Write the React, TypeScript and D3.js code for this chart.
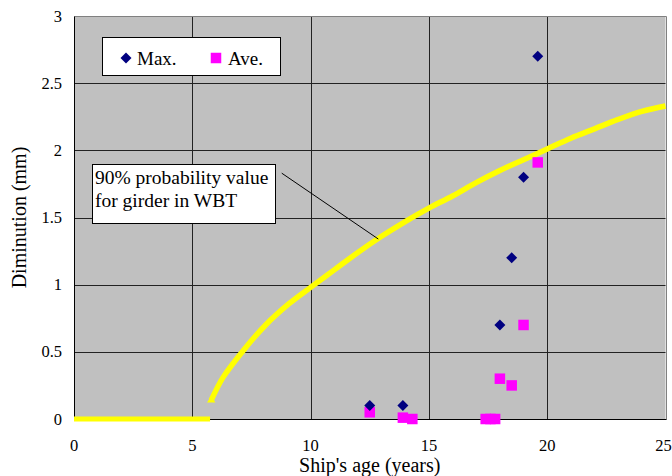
import * as d3 from 'd3';
import React from 'react';

// scatter data
const maxAges = [12.5, 13.9, 18.0, 18.5, 19.0, 19.6];
const maxValues = [0.1, 0.1, 0.7, 1.2, 1.8, 2.7];
const aveAges = [12.5, 13.9, 14.3, 17.4, 17.6, 17.8, 18.0, 18.5, 19.0, 19.6];
const aveValues = [0.05, 0.01, 0, 0, 0, 0, 0.3, 0.25, 0.7, 1.91];

// 90% probability curve
const flatAges = [0, 5.75];
const flatValues = [0, 0];
const curveAges = [5.8, 6.3, 7.2, 8.1, 9.1, 10, 11, 12, 13, 14, 15, 16, 17, 18, 19, 20, 21, 22, 23, 24, 25];
const curveValues = [0.14, 0.31, 0.52, 0.7, 0.86, 0.98, 1.11, 1.24, 1.36, 1.47, 1.57, 1.66, 1.76, 1.85, 1.93, 2.01, 2.09, 2.16, 2.23, 2.29, 2.33];

const xTicks = [0, 5, 10, 15, 20, 25];
const yTicks = [0, 0.5, 1, 1.5, 2, 2.5, 3];

export default function App() {
  const svgRef = React.useRef<SVGSVGElement>(null);

  React.useEffect(() => {
    if (svgRef.current == null) {
      return;
    }
    const w = 672;
    const h = 476;
    const font = '"Liberation Serif", "Times New Roman", serif';

    const svg = d3.select(svgRef.current);
    svg.selectAll('*').remove();

    const xScale = d3.scaleLinear().domain([0, 25]).range([74, 665.5]);
    const yScale = d3.scaleLinear().domain([0, 3]).range([419, 16]);
    const px = (v: number) => Math.round(v) + 0.5;

    svg.append('rect').attr('width', w).attr('height', h).attr('fill', '#fff');

    // plot area
    svg
      .append('rect')
      .attr('x', xScale(0))
      .attr('y', yScale(3))
      .attr('width', xScale(25) - xScale(0))
      .attr('height', yScale(0) - yScale(3))
      .attr('fill', '#c0c0c0');

    // grid
    for (const t of xTicks.slice(1, -1)) {
      svg
        .append('line')
        .attr('x1', px(xScale(t)))
        .attr('x2', px(xScale(t)))
        .attr('y1', yScale(3))
        .attr('y2', yScale(0))
        .attr('stroke', '#222')
        .attr('stroke-width', 1);
    }
    for (const v of yTicks.slice(1, -1)) {
      svg
        .append('line')
        .attr('x1', xScale(0))
        .attr('x2', xScale(25))
        .attr('y1', px(yScale(v)))
        .attr('y2', px(yScale(v)))
        .attr('stroke', '#222')
        .attr('stroke-width', 1);
    }

    // border: top/right grey, left/bottom black
    svg
      .append('path')
      .attr('d', `M${px(xScale(0))},${px(yScale(3))}H${px(xScale(25))}V${px(yScale(0))}`)
      .attr('fill', 'none')
      .attr('stroke', '#808080');
    svg
      .append('path')
      .attr('d', `M${px(xScale(0))},${px(yScale(3))}V${px(yScale(0))}H${px(xScale(25))}`)
      .attr('fill', 'none')
      .attr('stroke', '#000');

    // tick labels (last one nudged in so it stays on the page)
    svg
      .append('g')
      .selectAll('text')
      .data(xTicks)
      .join('text')
      .attr('x', (d) => Math.min(xScale(d), w - 8.5))
      .attr('y', 451)
      .attr('text-anchor', 'middle')
      .style('font', `16.5px ${font}`)
      .text((d) => String(d));
    svg
      .append('g')
      .selectAll('text')
      .data(yTicks)
      .join('text')
      .attr('x', 62)
      .attr('y', (d) => yScale(d) + 5.5)
      .attr('text-anchor', 'end')
      .style('font', `16.5px ${font}`)
      .text((d) => String(d));

    // axis titles
    svg
      .append('text')
      .attr('x', (xScale(0) + xScale(25)) / 2)
      .attr('y', 472)
      .attr('text-anchor', 'middle')
      .style('font', `20px ${font}`)
      .text("Ship's age (years)");
    svg
      .append('text')
      .attr('transform', `translate(26, ${(yScale(0) + yScale(3)) / 2}) rotate(-90)`)
      .attr('text-anchor', 'middle')
      .style('font', `20px ${font}`)
      .text('Diminution (mm)');

    // probability curve
    const line = d3
      .line<number>()
      .x((_, i) => xScale(curveAges[i]))
      .y((d) => yScale(d))
      .curve(d3.curveCatmullRom.alpha(0.5));
    const flatLine = d3
      .line<number>()
      .x((_, i) => xScale(flatAges[i]))
      .y((d) => yScale(d));
    svg
      .append('path')
      .attr('d', flatLine(flatValues))
      .attr('fill', 'none')
      .attr('stroke', '#ffff00')
      .attr('stroke-width', 5);
    svg
      .append('path')
      .attr('d', line(curveValues))
      .attr('fill', 'none')
      .attr('stroke', '#ffff00')
      .attr('stroke-width', 5.5);
    svg
      .append('path')
      .attr('d', d3.symbol(d3.symbolTriangle, 30)())
      .attr('transform', `translate(${xScale(curveAges[0])}, ${yScale(curveValues[0])})`)
      .attr('fill', '#ffff00');

    // Ave. squares
    const sq = 10.5;
    svg
      .append('g')
      .selectAll('rect')
      .data(aveValues)
      .join('rect')
      .attr('x', (_, i) => xScale(aveAges[i]) - sq / 2)
      .attr('y', (d) => yScale(d) - sq / 2)
      .attr('width', sq)
      .attr('height', sq)
      .attr('fill', '#ff00ff');

    // Max. diamonds
    const r = 5.5;
    const diamond = `M0,${-r}L${r},0L0,${r}L${-r},0Z`;
    svg
      .append('g')
      .selectAll('path')
      .data(maxValues)
      .join('path')
      .attr('d', diamond)
      .attr('transform', (d, i) => `translate(${xScale(maxAges[i])}, ${yScale(d)})`)
      .attr('fill', '#000080');

    // legend
    svg
      .append('rect')
      .attr('x', 102.5)
      .attr('y', 37.5)
      .attr('width', 178)
      .attr('height', 38)
      .attr('fill', '#fff')
      .attr('stroke', '#000');
    svg
      .append('path')
      .attr('d', diamond)
      .attr('transform', 'translate(126, 58)')
      .attr('fill', '#000080');
    svg
      .append('text')
      .attr('x', 137)
      .attr('y', 64.5)
      .style('font', `19px ${font}`)
      .text('Max.');
    svg
      .append('rect')
      .attr('x', 216 - sq / 2)
      .attr('y', 58 - sq / 2)
      .attr('width', sq)
      .attr('height', sq)
      .attr('fill', '#ff00ff');
    svg
      .append('text')
      .attr('x', 228)
      .attr('y', 64.5)
      .style('font', `19px ${font}`)
      .text('Ave.');

    // annotation
    svg
      .append('line')
      .attr('x1', xScale(8.78))
      .attr('y1', yScale(1.83))
      .attr('x2', xScale(12.86))
      .attr('y2', yScale(1.34))
      .attr('stroke', '#000')
      .attr('stroke-width', 1);
    svg
      .append('rect')
      .attr('x', px(xScale(0.78)))
      .attr('y', px(yScale(1.9)))
      .attr('width', 183)
      .attr('height', 59)
      .attr('fill', '#fff')
      .attr('stroke', '#000');
    const note = svg.append('text').style('font', `19.5px ${font}`);
    note.append('tspan').attr('x', 95).attr('y', 184).text('90% probability value');
    note.append('tspan').attr('x', 95).attr('y', 207).text('for girder in WBT');
  }, []);

  return (
    <svg
      ref={svgRef}
      width={672}
      height={476}
      style={{ position: 'absolute', left: 0, top: 0, display: 'block' }}
    ></svg>
  );
}
